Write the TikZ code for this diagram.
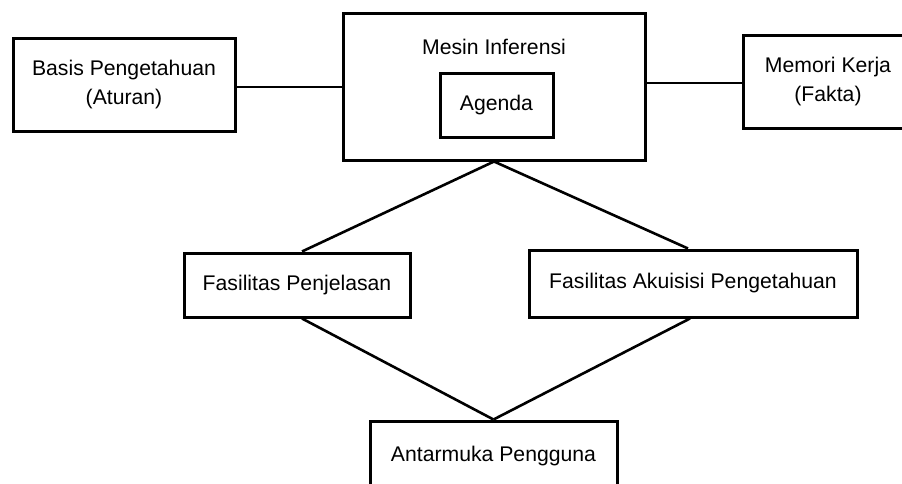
\documentclass[tikz,border=0pt]{standalone}
\usepackage{fontspec}
\setmainfont{Liberation Sans}
\begin{document}
\begin{tikzpicture}[x=1pt,y=-1pt,
  box/.style={draw=black,line width=3pt,rectangle,inner sep=0pt,align=center,font=\fontsize{21.2}{29}\selectfont},
  link/.style={draw=black,line width=2.6pt}]
\useasboundingbox (0,0) rectangle (902,483);
\clip (0,0) rectangle (902,483);
\node[box,minimum width=222pt,minimum height=93pt] (basis) at (124,84.5) {Basis Pengetahuan\\(Aturan)};
\node[box,minimum width=302pt,minimum height=147pt] (mesin) at (494,86.5) {};
\node[font=\fontsize{21.2}{29}\selectfont] (mlabel) at (494,47) {Mesin Inferensi};
\node[box,minimum width=113pt,minimum height=64pt] (agenda) at (496.5,105) {Agenda};
\node[box,minimum width=170pt,minimum height=93pt] (memori) at (828,81.5) {Memori Kerja\\(Fakta)};
\node[box,minimum width=226pt,minimum height=64pt] (pen) at (297,285) {Fasilitas Penjelasan};
\node[box,minimum width=328pt,minimum height=67pt] (aku) at (693,283.5) {Fasilitas Akuisisi Pengetahuan};
\node[box,minimum width=247pt,minimum height=70pt] (antar) at (493.5,456) {Antarmuka Pengguna};
\draw[link] (basis.east |- 0,87) -- (mesin.west |- 0,87);
\draw[link] (mesin.east |- 0,83) -- (memori.west |- 0,83);
\draw[link] (mesin.south) -- ([xshift=5pt]pen.north);
\draw[link] (mesin.south) -- ([xshift=-5pt]aku.north);
\draw[link] ([xshift=5pt]pen.south) -- (antar.north);
\draw[link] ([xshift=-3pt]aku.south) -- (antar.north);
\end{tikzpicture}
\end{document}
